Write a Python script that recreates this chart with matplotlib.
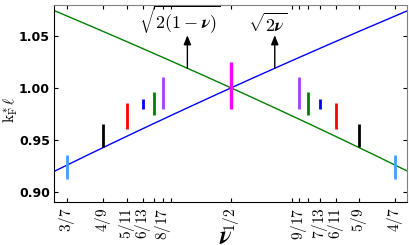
import numpy as np
import matplotlib
matplotlib.use("Agg")
import matplotlib.pyplot as plt

plt.rcParams['mathtext.fontset'] = 'cm'

# Data
tick_fracs = [(3, 7), (4, 9), (5, 11), (6, 13), (7, 15), (8, 17), (9, 19), (1, 2),
              (10, 19), (9, 17), (8, 15), (7, 13), (6, 11), (5, 9), (4, 7)]
tick_labels = ['3/7', '4/9', '5/11', '6/13', '', '8/17', '', '1/2',
               '', '9/17', '', '7/13', '6/11', '5/9', '4/7']
bar_fracs = [(3, 7), (4, 9), (5, 11), (6, 13), (7, 15), (8, 17), (1, 2),
             (9, 17), (8, 15), (7, 13), (6, 11), (5, 9), (4, 7)]
bar_low = [0.913, 0.943, 0.961, 0.980, 0.974, 0.980, 0.980,
           0.980, 0.974, 0.980, 0.961, 0.943, 0.913]
bar_high = [0.936, 0.9656, 0.9858, 0.9889, 0.9962, 1.0104, 1.0248,
            1.0104, 0.9962, 0.9889, 0.9858, 0.9656, 0.936]
bar_colors = ['#3f9fff', 'black', 'red', 'blue', 'green', '#a040ff', '#ff00ff',
              '#a040ff', 'green', 'blue', 'red', 'black', '#3f9fff']
arrow_nu = [0.481, 0.519]
text_nu = [0.4776, 0.5160]

xlim = (0.423, 0.5765)
ylim = (0.8905, 1.0795)

fig = plt.figure(figsize=(4.09, 2.45), dpi=100)
ax = fig.add_axes([54/409, 1-202/245, 353/409, 197/245])

nu = np.linspace(xlim[0], xlim[1], 200)
ax.plot(nu, np.sqrt(2*nu), color='blue', lw=1.0, zorder=2)
ax.plot(nu, np.sqrt(2*(1-nu)), color='green', lw=1.0, zorder=2)

for (p, q), lo, hi, c in zip(bar_fracs, bar_low, bar_high, bar_colors):
    x = p/q
    lw = 2.4 if (p, q) == (1, 2) else 2.0
    ax.plot([x, x], [lo, hi], color=c, lw=lw, solid_capstyle='butt', zorder=3)

# arrows and annotations
for a, f in zip(arrow_nu, [lambda v: np.sqrt(2*(1-v)), lambda v: np.sqrt(2*v)]):
    ax.annotate('', xy=(a, 1.0505), xytext=(a, f(a)),
                arrowprops=dict(arrowstyle='-|>,head_length=0.55,head_width=0.22',
                                color='black', lw=1.0, shrinkA=0, shrinkB=0))
ax.text(text_nu[0], 1.0495, r'$\sqrt{\boldsymbol{2(1-\nu)}}$', fontsize=13,
        ha='center', va='bottom')
ax.text(text_nu[1], 1.0495, r'$\sqrt{\boldsymbol{2\nu}}$', fontsize=13,
        ha='center', va='bottom')

ax.set_xlim(*xlim)
ax.set_ylim(*ylim)
ax.set_xticks([p/q for p, q in tick_fracs])
ax.set_xticklabels([r'$%s$' % s if s else '' for s in tick_labels], rotation=90, fontsize=11)
ax.set_yticks([0.90, 0.95, 1.00, 1.05])
ax.set_yticklabels(['0.90', '0.95', '1.00', '1.05'], fontsize=9, fontweight='bold')
ax.tick_params(direction='in', length=3, width=0.8, top=True, right=True, pad=3)
ax.tick_params(axis='x', pad=4)
for s in ['top', 'right']:
    ax.spines[s].set_color('#808080')
for s in ['left', 'bottom']:
    ax.spines[s].set_color('black')

fig.text(226/409, 1-237/245, r'$\boldsymbol{\nu}$', fontsize=18, ha='center', va='center')
fig.text(11/409, 1-110/245, r'$\mathrm{k}^*_\mathrm{F}\ell$', fontsize=11, rotation=90,
         ha='center', va='center')

fig.savefig('out.png', dpi=100)
